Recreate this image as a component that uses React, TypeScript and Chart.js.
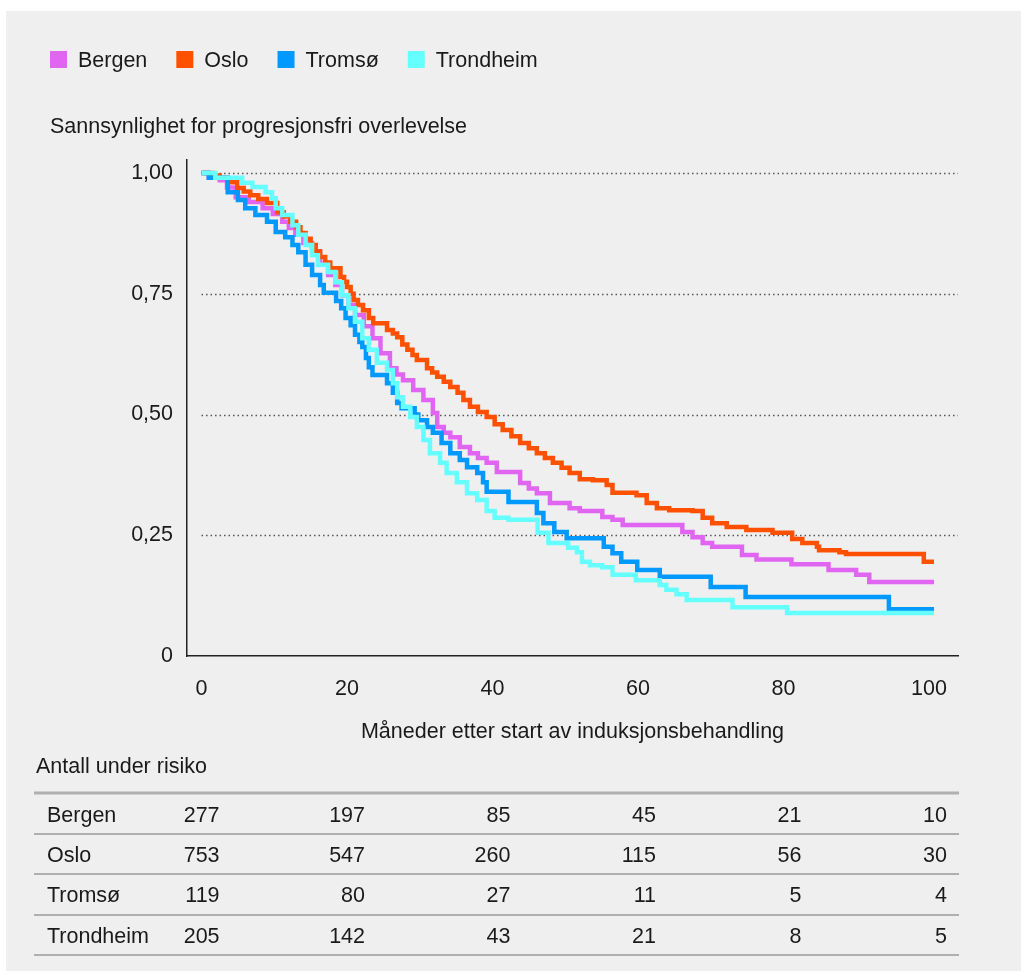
import { useEffect, useRef } from 'react';
import { Chart, registerables } from 'chart.js';

Chart.register(...registerables);

const seriesNames = ['Bergen', 'Oslo', 'Tromsø', 'Trondheim'];
const seriesColors = ['#e066f2', '#ff5000', '#0099ff', '#66ffff'];

const bergenT = [0, 1, 2.5, 3.5, 4.7, 6.5, 8.4, 9.8, 11.1, 12, 12.9, 14, 15.2, 16.3, 17.4, 18.4, 19.3, 20.2, 21.1, 22.3, 23.5, 24.6, 25.9, 26.8, 27.7, 29.1, 30.5, 31.8, 32.4, 33.3, 34.2, 35.5, 36.9, 38, 39.2, 40.6, 43.8, 45, 46.1, 47.9, 50.6, 52, 55.1, 56.5, 57.9, 66.1, 67.5, 68.9, 70.2, 74.3, 76.3, 81.1, 86.2, 90, 91.8, 100.7];
const bergenS = [1, 0.99, 0.985, 0.97, 0.95, 0.94, 0.927, 0.915, 0.899, 0.886, 0.872, 0.855, 0.836, 0.812, 0.789, 0.768, 0.747, 0.727, 0.706, 0.683, 0.658, 0.627, 0.596, 0.583, 0.571, 0.551, 0.53, 0.503, 0.474, 0.462, 0.453, 0.433, 0.42, 0.41, 0.4, 0.381, 0.358, 0.347, 0.337, 0.317, 0.306, 0.3, 0.288, 0.282, 0.271, 0.257, 0.246, 0.234, 0.226, 0.209, 0.2, 0.19, 0.178, 0.168, 0.153, 0.153];

const osloT = [0, 1.5, 2.5, 3.6, 4.9, 5.8, 6.7, 7.8, 9, 10.4, 11.3, 12.2, 13, 13.6, 14.3, 15, 15.7, 16.3, 17, 17.7, 19.1, 19.6, 20, 20.5, 20.9, 21.5, 22.2, 23, 23.6, 25.5, 26.3, 26.9, 27.6, 28.3, 29, 29.6, 31, 31.7, 32.4, 33.3, 34.2, 35.2, 36, 36.9, 38, 39.2, 40.3, 41.4, 42.6, 43.8, 45, 46.1, 47.2, 48.3, 49.5, 50.6, 52, 53.8, 55.7, 56.5, 59.8, 61.2, 62.6, 64.3, 67.5, 68.9, 70.2, 72.2, 74.9, 78.5, 81.2, 82.6, 84.6, 84.9, 87.7, 88.6, 99.3, 100.7];
const osloS = [1, 0.995, 0.99, 0.981, 0.969, 0.962, 0.954, 0.946, 0.938, 0.919, 0.91, 0.899, 0.888, 0.876, 0.864, 0.851, 0.838, 0.826, 0.815, 0.803, 0.785, 0.775, 0.764, 0.75, 0.737, 0.727, 0.716, 0.7, 0.689, 0.675, 0.668, 0.66, 0.645, 0.634, 0.623, 0.613, 0.596, 0.587, 0.578, 0.568, 0.557, 0.545, 0.53, 0.516, 0.505, 0.495, 0.48, 0.468, 0.455, 0.441, 0.43, 0.42, 0.41, 0.4, 0.39, 0.379, 0.366, 0.364, 0.354, 0.338, 0.333, 0.317, 0.306, 0.302, 0.3, 0.286, 0.275, 0.267, 0.261, 0.255, 0.242, 0.234, 0.226, 0.219, 0.215, 0.211, 0.195, 0.195];

const tromsoT = [0, 1, 3.6, 5, 6, 7.4, 9, 10.2, 11.5, 12.5, 13.3, 14.3, 15.2, 16.3, 16.8, 18.5, 19.2, 19.8, 20.5, 21.1, 21.7, 22.1, 22.6, 23, 23.5, 25.5, 26.3, 26.9, 27.5, 29.3, 29.8, 31, 31.8, 33, 34.2, 35.5, 36.5, 37.9, 38.7, 39.2, 42.2, 46.1, 47, 48.5, 50.2, 55.3, 56.5, 57.7, 59.9, 63, 70, 74.8, 94.5, 100.7];
const tromsoS = [1, 0.99, 0.96, 0.944, 0.927, 0.913, 0.899, 0.878, 0.867, 0.851, 0.836, 0.81, 0.789, 0.768, 0.752, 0.735, 0.72, 0.7, 0.685, 0.665, 0.65, 0.64, 0.617, 0.598, 0.582, 0.565, 0.545, 0.524, 0.513, 0.5, 0.488, 0.474, 0.462, 0.441, 0.42, 0.406, 0.391, 0.379, 0.36, 0.34, 0.319, 0.296, 0.275, 0.257, 0.244, 0.226, 0.213, 0.195, 0.178, 0.164, 0.143, 0.122, 0.097, 0.097];

const trondheimT = [0, 1.9, 5.6, 7, 8.8, 9.7, 10.2, 11.1, 12.5, 13.3, 14.3, 15.2, 16, 17.4, 18.4, 19.3, 20.2, 21.1, 22.1, 23, 24.1, 25.5, 26.3, 26.9, 27.7, 28.7, 29.6, 30.5, 31.4, 32.8, 33.7, 35.1, 36.5, 37.9, 39.2, 40.3, 42.2, 46.2, 47.7, 50.4, 51.6, 52.3, 53.4, 55.1, 56.5, 59.7, 63, 63.9, 65.3, 66.7, 73, 80.5, 100.7];
const trondheimS = [1, 0.99, 0.98, 0.971, 0.96, 0.948, 0.927, 0.913, 0.892, 0.872, 0.851, 0.83, 0.81, 0.795, 0.774, 0.747, 0.72, 0.692, 0.658, 0.634, 0.607, 0.592, 0.565, 0.536, 0.516, 0.495, 0.474, 0.447, 0.42, 0.4, 0.379, 0.36, 0.337, 0.323, 0.3, 0.286, 0.282, 0.255, 0.234, 0.224, 0.215, 0.195, 0.188, 0.184, 0.168, 0.157, 0.147, 0.137, 0.128, 0.116, 0.101, 0.089, 0.089];

const seriesTimes = [bergenT, osloT, tromsoT, trondheimT];
const seriesSurv = [bergenS, osloS, tromsoS, trondheimS];

const xTicks = [0, 20, 40, 60, 80, 100];
const yTicks = [0, 0.25, 0.5, 0.75, 1];

const riskTimes = [0, 20, 40, 60, 80, 100];
const riskBergen = [277, 197, 85, 45, 21, 10];
const riskOslo = [753, 547, 260, 115, 56, 30];
const riskTromso = [119, 80, 27, 11, 5, 4];
const riskTrondheim = [205, 142, 43, 21, 8, 5];
const riskRows = [riskBergen, riskOslo, riskTromso, riskTrondheim];

const yTitle = 'Sannsynlighet for progresjonsfri overlevelse';
const xTitle = 'Måneder etter start av induksjonsbehandling';
const tableTitle = 'Antall under risiko';

const FAMILY = '"Liberation Sans", Arial, sans-serif';
const FSIZE = 21.5;
const FONT = `${FSIZE}px ${FAMILY}`;
const TEXT = '#1a1a1a';
const W = 1015;
const H = 960;
const Y_AXIS_W = 90;

const decor = {
  id: 'decor',
  beforeDatasetsDraw(chart: any) {
    const { ctx, chartArea, scales } = chart;
    const x0 = scales.x.getPixelForValue(0);
    ctx.save();
    ctx.strokeStyle = '#555';
    ctx.lineWidth = 1.5;
    ctx.setLineDash([1.5, 3]);
    for (const v of yTicks) {
      if (v === 0) continue;
      const y = Math.round(scales.y.getPixelForValue(v)) + 0.5;
      ctx.beginPath();
      ctx.moveTo(x0, y);
      ctx.lineTo(chartArea.right, y);
      ctx.stroke();
    }
    ctx.restore();
  },
  afterDraw(chart: any) {
    const { ctx, chartArea, scales } = chart;
    ctx.save();
    ctx.font = FONT;
    ctx.fillStyle = TEXT;
    ctx.textBaseline = 'middle';
    // legend
    let lx = 44;
    seriesNames.forEach((name, i) => {
      ctx.fillStyle = seriesColors[i];
      ctx.fillRect(lx, 40, 17, 17);
      ctx.fillStyle = TEXT;
      ctx.textAlign = 'left';
      ctx.fillText(name, lx + 28, 50);
      lx += 28 + ctx.measureText(name).width + 29;
    });
    // y title
    ctx.textAlign = 'left';
    ctx.fillText(yTitle, 44, 116);
    // x title
    ctx.textAlign = 'center';
    ctx.fillText(xTitle, (chartArea.left + chartArea.right) / 2, 721);
    // table
    ctx.textAlign = 'left';
    ctx.fillText(tableTitle, 30, 756);
    const lineYs = [782, 823, 863, 904, 944];
    lineYs.forEach((y, i) => {
      ctx.strokeStyle = i === 0 ? '#b0b0b0' : '#9a9a9a';
      ctx.lineWidth = i === 0 ? 3 : 1.5;
      ctx.beginPath();
      ctx.moveTo(28, y);
      ctx.lineTo(953, y);
      ctx.stroke();
    });
    const rowYs = [805, 845, 885, 926];
    riskRows.forEach((row, r) => {
      ctx.textAlign = 'left';
      ctx.fillText(seriesNames[r], 41, rowYs[r]);
      ctx.textAlign = 'right';
      row.forEach((n, c) => {
        ctx.fillText(String(n), scales.x.getPixelForValue(riskTimes[c]) + 18, rowYs[r]);
      });
    });
    ctx.restore();
  },
};

export default function App() {
  const ref = useRef<HTMLCanvasElement | null>(null);
  useEffect(() => {
    if (!ref.current) return;
    const datasets = seriesNames.map((name, i) => ({
      label: name,
      data: seriesTimes[i].map((t, k) => ({ x: t, y: seriesSurv[i][k] })),
      borderColor: seriesColors[i],
      backgroundColor: seriesColors[i],
      borderWidth: 4.5,
      stepped: 'before' as const,
      pointRadius: 0,
      fill: false,
      order: seriesNames.length - 1 - i,
    }));
    const chart = new Chart(ref.current, {
      type: 'line',
      data: { datasets },
      plugins: [decor],
      options: {
        responsive: false,
        animation: false,
        layout: { padding: { left: 181 - Y_AXIS_W, top: 149, right: W - 952, bottom: H - 645 - 70 } },
        plugins: { legend: { display: false }, tooltip: { enabled: false } },
        scales: {
          x: {
            type: 'linear',
            min: -2,
            max: 104,
            afterBuildTicks: (s: any) => {
              s.ticks = xTicks.map((v) => ({ value: v }));
            },
            afterFit: (s: any) => {
              s.height = 70;
            },
            grid: { display: false, drawTicks: false },
            border: { display: true, color: '#222', width: 1.5 },
            ticks: {
              padding: 20,
              color: TEXT,
              font: { family: FAMILY, size: FSIZE },
              maxRotation: 0,
              autoSkip: false,
              callback: (v: any) => String(v),
            },
          },
          y: {
            type: 'linear',
            min: 0,
            max: 1.027,
            afterBuildTicks: (s: any) => {
              s.ticks = yTicks.map((v) => ({ value: v }));
            },
            afterFit: (s: any) => {
              s.width = Y_AXIS_W;
            },
            grid: { display: false, drawTicks: false },
            border: { display: true, color: '#222', width: 1.5 },
            ticks: {
              padding: 14,
              color: TEXT,
              font: { family: FAMILY, size: FSIZE },
              callback: (v: any) => (v === 0 ? '0' : Number(v).toFixed(2).replace('.', ',')),
            },
          },
        },
      },
    });
    return () => chart.destroy();
  }, []);
  return (
    <div style={{ position: 'absolute', left: 6, top: 11, width: W, height: H, background: '#efefef' }}>
      <canvas ref={ref} width={W} height={H} style={{ display: 'block', width: W, height: H }} />
    </div>
  );
}
